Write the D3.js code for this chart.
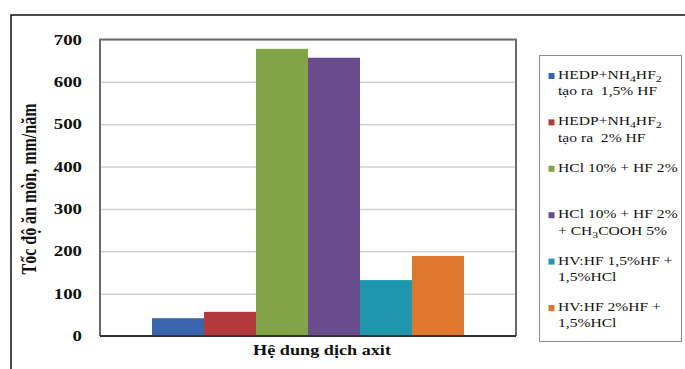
<!DOCTYPE html>
<html>
<head>
<meta charset="utf-8">
<script src="https://cdn.jsdelivr.net/npm/d3@7"></script>
<style>
  html, body { margin: 0; padding: 0; background: #fff; }
  svg { display: block; }
  text { font-family: "Liberation Serif", "Times New Roman", serif; fill: #111; }
</style>
</head>
<body>
<svg id="chart" width="685" height="369"></svg>
<script>
// Corrosion rate (mm/năm) for each acid system
const seriesNames = [
  "HEDP+NH_4HF_2\ntạo ra  1,5% HF",
  "HEDP+NH_4HF_2\ntạo ra  2% HF",
  "HCl 10% + HF 2%",
  "HCl 10% + HF 2%\n+ CH_3COOH 5%",
  "HV:HF 1,5%HF +\n1,5%HCl",
  "HV:HF 2%HF +\n1,5%HCl"
];
const seriesValues = [42, 57, 678, 657, 132, 189];
const seriesColors = ["#3a66ad", "#b23a3a", "#82a447", "#684c8e", "#1f96ab", "#df782f"];
const yTicks = [0, 100, 200, 300, 400, 500, 600, 700];
const categoryLabel = "Hệ dung dịch axit";
const yAxisTitle = "Tốc độ ăn mòn, mm/năm";

const SX = 1.3; // horizontal glyph stretch used for all text
const svg = d3.select("#chart");

const plot = { left: 100, right: 516, top: 39.5, bottom: 336 };
const W = plot.right - plot.left, H = plot.bottom - plot.top;

// outer frame (top and left edges)
svg.append("path")
  .attr("d", "M11,369 V15 H685")
  .attr("fill", "none").attr("stroke", "#111").attr("stroke-width", 1.5);

const g = svg.append("g").attr("transform", `translate(${plot.left},${plot.top})`);

const y = d3.scaleLinear().domain([0, 700]).range([H, 0]);
const x = d3.scaleBand().domain(d3.range(seriesValues.length)).range([0, W])
  .paddingInner(0).paddingOuter(1);

// gridlines
const grid = g.append("g").call(d3.axisLeft(y).tickValues(yTicks).tickSize(-W).tickFormat(""));
grid.select(".domain").remove();
grid.selectAll("line").attr("stroke", "#d2d2d2").attr("stroke-width", 1.5);

// bars
g.selectAll("rect.bar").data(seriesValues).join("rect")
  .attr("class", "bar")
  .attr("x", (d, i) => x(i))
  .attr("width", x.bandwidth())
  .attr("y", d => y(d))
  .attr("height", d => y(0) - y(d))
  .attr("fill", (d, i) => seriesColors[i]);

// plot border
g.append("path")
  .attr("d", `M0,${H} V0 H${W} V${H}`)
  .attr("fill", "none").attr("stroke", "#6a6a6a").attr("stroke-width", 2);
g.append("line")
  .attr("x1", 0).attr("x2", W).attr("y1", H).attr("y2", H)
  .attr("stroke", "#333").attr("stroke-width", 2);

// y axis labels
const yAxis = g.append("g").call(d3.axisLeft(y).tickValues(yTicks).tickSize(0).tickPadding(18));
yAxis.select(".domain").remove();
yAxis.selectAll("text")
  .attr("x", -18 / SX)
  .attr("transform", `scale(${SX},1)`)
  .style("font-family", '"Liberation Serif", serif')
  .style("font-size", "14.5px")
  .style("font-weight", "bold")
  .attr("fill", "#111");

// axis titles
svg.append("text")
  .attr("transform", `translate(322,355) scale(${SX},1)`)
  .attr("text-anchor", "middle")
  .style("font-size", "14px").style("font-weight", "bold")
  .text(categoryLabel);

svg.append("text")
  .attr("transform", `translate(36,189) scale(${SX},1) rotate(-90)`)
  .attr("text-anchor", "middle")
  .style("font-size", "16px").style("font-weight", "bold")
  .text(yAxisTitle);

// legend
const legend = svg.append("g");
legend.append("rect")
  .attr("x", 539.5).attr("y", 55.5).attr("width", 142).attr("height", 286)
  .attr("fill", "#fff").attr("stroke", "#8a8a8a").attr("stroke-width", 1);

const ly = d3.scalePoint().domain(d3.range(seriesNames.length)).range([79, 311]);

function addRich(textSel, line) {
  // "_n" marks a subscript digit
  const parts = line.split(/(_\d)/).filter(p => p);
  let shift = 0;
  parts.forEach(p => {
    const sub = p.startsWith("_");
    const target = sub ? 3 : 0;
    const ts = textSel.append("tspan").text(sub ? p.slice(1) : p);
    if (target !== shift) ts.attr("dy", target - shift);
    if (sub) ts.style("font-size", "9px");
    shift = target;
  });
}

seriesNames.forEach((name, i) => {
  const base = ly(i);
  legend.append("rect")
    .attr("x", 548.5).attr("y", base - 6).attr("width", 6).attr("height", 6)
    .attr("fill", seriesColors[i]);
  name.split("\n").forEach((line, j) => {
    const t = legend.append("text")
      .attr("transform", `translate(558,${base + j * 16.4}) scale(${SX},1)`)
      .style("font-size", "12px")
      .attr("xml:space", "preserve")
      .style("white-space", "pre");
    addRich(t, line);
  });
});
</script>
</body>
</html>
